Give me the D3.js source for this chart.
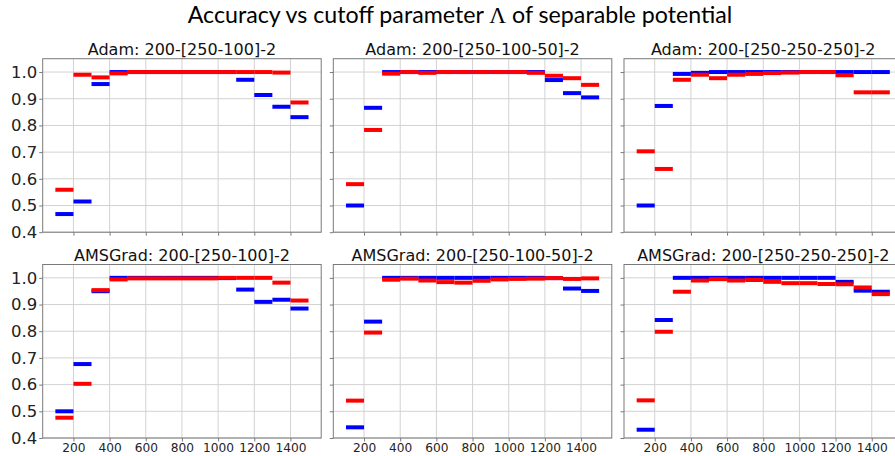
<!DOCTYPE html>
<html>
<head>
<meta charset="utf-8">
<script src="https://cdn.jsdelivr.net/npm/d3@7"></script>
<style>
  html, body { margin: 0; padding: 0; background: #fff; }
  svg { display: block; }
</style>
</head>
<body>
<svg id="chart" width="895" height="456"></svg>
<script>
// ---------- data ----------
const mainTitle = "Accuracy vs cutoff parameter ";
const mainTitleSymbol = "Λ";
const mainTitleEnd = " of separable potential";

const panelTitles = [
  "Adam: 200-[250-100]-2",
  "Adam: 200-[250-100-50]-2",
  "Adam: 200-[250-250-250]-2",
  "AMSGrad: 200-[250-100]-2",
  "AMSGrad: 200-[250-100-50]-2",
  "AMSGrad: 200-[250-250-250]-2"
];

// cutoff Λ bin edges; each value is drawn from one edge to the next
const cutoffEdges = [100, 200, 300, 400, 500, 600, 700, 800, 900, 1000, 1100, 1200, 1300, 1400, 1500];

const xTickValues = [200, 400, 600, 800, 1000, 1200, 1400];
const yTickValues = [0.4, 0.5, 0.6, 0.7, 0.8, 0.9, 1.0];

const adam_250_100_blue = [0.468, 0.515, 0.955, 1.0, 1.0, 1.0, 1.0, 1.0, 1.0, 1.0, 0.971, 0.914, 0.870, 0.831];
const adam_250_100_red  = [0.559, 0.990, 0.980, 0.995, 1.0, 1.0, 1.0, 1.0, 1.0, 1.0, 1.0, 1.0, 0.998, 0.886];

const adam_250_100_50_blue = [0.500, 0.866, 1.0, 1.0, 1.0, 1.0, 1.0, 1.0, 1.0, 1.0, 1.0, 0.970, 0.921, 0.905];
const adam_250_100_50_red  = [0.580, 0.783, 0.994, 1.0, 0.997, 1.0, 1.0, 1.0, 1.0, 1.0, 0.997, 0.986, 0.977, 0.952];

const adam_250_250_250_blue = [0.500, 0.873, 0.993, 0.997, 1.0, 1.0, 1.0, 1.0, 1.0, 1.0, 1.0, 1.0, 1.0, 1.0];
const adam_250_250_250_red  = [0.703, 0.637, 0.971, 0.990, 0.977, 0.990, 0.993, 0.996, 0.998, 1.0, 1.0, 0.988, 0.924, 0.924];

const ams_250_100_blue = [0.500, 0.677, 0.950, 1.0, 1.0, 1.0, 1.0, 1.0, 1.0, 0.999, 0.956, 0.910, 0.918, 0.885];
const ams_250_100_red  = [0.476, 0.603, 0.954, 0.994, 0.998, 0.998, 0.998, 0.998, 0.998, 1.0, 1.0, 1.0, 0.982, 0.915];

const ams_250_100_50_blue = [0.440, 0.836, 1.0, 1.0, 1.0, 1.0, 1.0, 1.0, 1.0, 1.0, 1.0, 0.999, 0.960, 0.951];
const ams_250_100_50_red  = [0.540, 0.795, 0.993, 0.997, 0.990, 0.984, 0.982, 0.989, 0.994, 0.996, 0.997, 0.999, 0.996, 0.998];

const ams_250_250_250_blue = [0.431, 0.842, 1.0, 1.0, 1.0, 1.0, 1.0, 1.0, 1.0, 1.0, 1.0, 0.985, 0.952, 0.948];
const ams_250_250_250_red  = [0.541, 0.798, 0.948, 0.990, 0.995, 0.990, 0.992, 0.985, 0.980, 0.980, 0.977, 0.976, 0.964, 0.939];

const panelSeries = [
  [adam_250_100_blue, adam_250_100_red],
  [adam_250_100_50_blue, adam_250_100_50_red],
  [adam_250_250_250_blue, adam_250_250_250_red],
  [ams_250_100_blue, ams_250_100_red],
  [ams_250_100_50_blue, ams_250_100_50_red],
  [ams_250_250_250_blue, ams_250_250_250_red]
];
const seriesColors = ["#0000ff", "#ff0000"];

// ---------- layout ----------
const svg = d3.select("#chart");
const colLefts = [42.7, 333.3, 624.0];
const rowTops = [58.7, 264.5];
const pw = 278.5, ph = 173.5;
const xDomain = [30, 1570];
const yDomain = [0.4, 1.05];
const gridColor = "#d2d2d2";
const spineColor = "#7a7a7a";
const tickFont = "'DejaVu Sans', sans-serif";

// main title
const title = svg.append("text")
  .attr("x", 460).attr("y", 23)
  .attr("text-anchor", "middle")
  .style("font-family", "Lato, 'Open Sans', sans-serif")
  .style("font-size", "22px")
  .attr("fill", "#000");
title.append("tspan").text(mainTitle);
title.append("tspan").style("font-family", "'Liberation Serif', 'DejaVu Serif', serif").text(mainTitleSymbol);
title.append("tspan").text(mainTitleEnd);
const tw = title.node().getComputedTextLength();
title.style("font-size", (22 * 545 / tw) + "px");

panelSeries.forEach((series, i) => {
  const row = Math.floor(i / 3), col = i % 3;
  const left = colLefts[col], top = rowTops[row];
  const x = d3.scaleLinear().domain(xDomain).range([left, left + pw]);
  const y = d3.scaleLinear().domain(yDomain).range([top + ph, top]);
  const g = svg.append("g");

  // grid
  g.append("g").selectAll("line").data(xTickValues).join("line")
    .attr("x1", d => x(d)).attr("x2", d => x(d))
    .attr("y1", top).attr("y2", top + ph)
    .attr("stroke", gridColor).attr("stroke-width", 1);
  g.append("g").selectAll("line").data(yTickValues).join("line")
    .attr("x1", left).attr("x2", left + pw)
    .attr("y1", d => y(d)).attr("y2", d => y(d))
    .attr("stroke", gridColor).attr("stroke-width", 1);

  // segments
  series.forEach((vals, si) => {
    const segs = vals.map((v, k) => ({ x0: cutoffEdges[k], x1: cutoffEdges[k + 1], v }));
    g.append("g").selectAll("line").data(segs).join("line")
      .attr("x1", d => x(d.x0)).attr("x2", d => x(d.x1))
      .attr("y1", d => y(d.v)).attr("y2", d => y(d.v))
      .attr("stroke", seriesColors[si])
      .attr("stroke-width", 4)
      .attr("stroke-linecap", "butt");
  });

  // spines
  g.append("rect")
    .attr("x", left).attr("y", top).attr("width", pw).attr("height", ph)
    .attr("fill", "none").attr("stroke", spineColor).attr("stroke-width", 1);

  // axes
  const xAxis = d3.axisBottom(x).tickValues(xTickValues).tickSize(3.5).tickSizeOuter(0).tickPadding(2)
    .tickFormat(row === 1 ? d3.format("d") : () => "");
  const xa = g.append("g").attr("transform", `translate(0,${top + ph})`).call(xAxis);
  xa.select(".domain").remove();
  xa.selectAll(".tick line").attr("stroke", spineColor);
  xa.selectAll(".tick text").style("font-family", tickFont).style("font-size", "12.2px").attr("fill", "#222");

  const yAxis = d3.axisLeft(y).tickValues(yTickValues).tickSize(3.5).tickSizeOuter(0).tickPadding(2)
    .tickFormat(col === 0 ? d3.format(".1f") : () => "");
  const ya = g.append("g").attr("transform", `translate(${left},0)`).call(yAxis);
  ya.select(".domain").remove();
  ya.selectAll(".tick line").attr("stroke", spineColor);
  ya.selectAll(".tick text").style("font-family", tickFont).style("font-size", "16.5px").attr("fill", "#222");

  // panel title
  svg.append("text")
    .attr("x", left + pw / 2).attr("y", top - 4)
    .attr("text-anchor", "middle")
    .style("font-family", tickFont)
    .style("font-size", "16px")
    .attr("fill", "#111")
    .text(panelTitles[i]);
});
</script>
</body>
</html>
